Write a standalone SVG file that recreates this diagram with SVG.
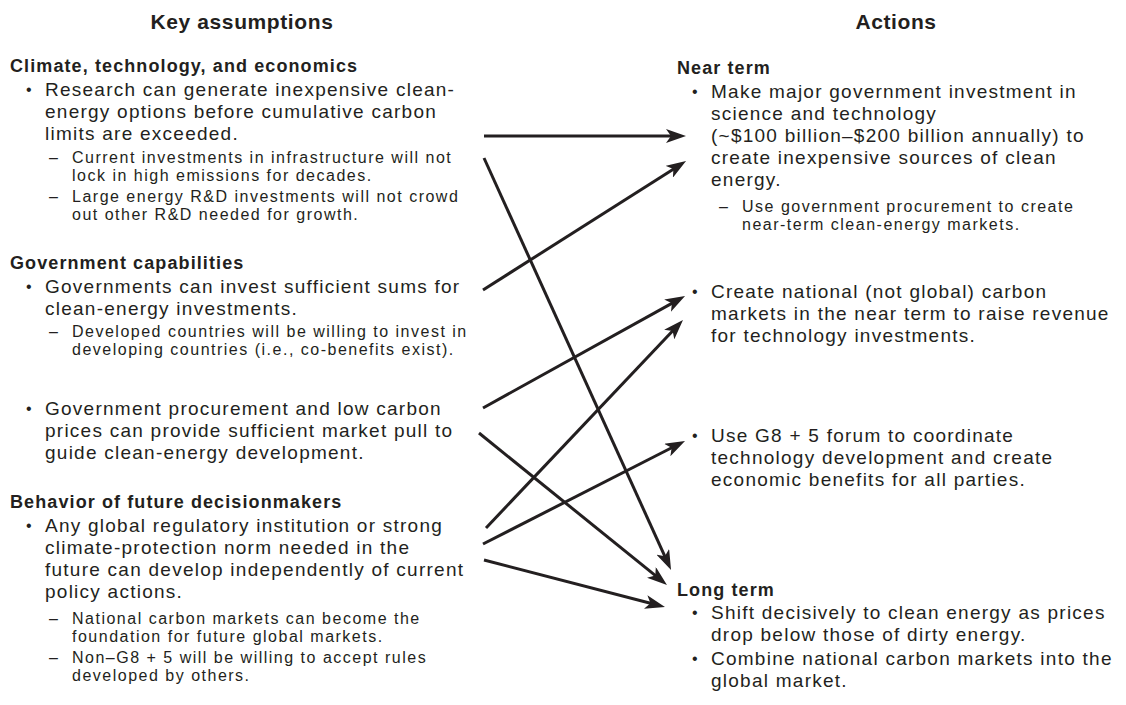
<svg xmlns="http://www.w3.org/2000/svg" width="1126" height="705" viewBox="0 0 1126 705">
<style>
text{font-family:"Liberation Sans",Arial,sans-serif;fill:#231f20;font-size:19px}
.title{font-size:21px;font-weight:bold;text-anchor:middle;letter-spacing:0.6px}
.h{font-size:18px;font-weight:bold;letter-spacing:1.1px}
.t{font-size:19px;letter-spacing:1.25px}
.s{font-size:16px;letter-spacing:1.5px}
.b{font-size:16px}
.c{stroke:#231f20;stroke-width:3;fill:none;marker-end:url(#ah)}
</style>
<defs>
<marker id="ah" markerUnits="userSpaceOnUse" viewBox="0 0 20 14" markerWidth="20" markerHeight="14" refX="10" refY="7" orient="auto">
<path d="M0,0 L20,7 L0,14 L5,7 z" fill="#231f20"/>
</marker>
</defs>
<rect width="1126" height="705" fill="#fff"/>
<g id="title-left"><text class="title" x="242" y="29">Key assumptions</text></g>
<g id="title-right"><text class="title" x="896" y="29">Actions</text></g>

<g id="a-research">
<text><tspan class="h" x="10" y="72">Climate, technology, and economics</tspan><tspan class="b" x="26" y="95">•</tspan><tspan class="t" x="45" y="96">Research can generate inexpensive clean-</tspan><tspan class="t" x="45" y="118">energy options before cumulative carbon</tspan><tspan class="t" x="45" y="140">limits are exceeded.</tspan><tspan class="s" x="49" y="163">–</tspan><tspan class="s" x="72" y="163">Current investments in infrastructure will not</tspan><tspan class="s" x="72" y="181">lock in high emissions for decades.</tspan><tspan class="s" x="49" y="202">–</tspan><tspan class="s" x="72" y="202">Large energy R&amp;D investments will not crowd</tspan><tspan class="s" x="72" y="220">out other R&amp;D needed for growth.</tspan></text>
</g>

<g id="a-invest">
<text><tspan class="h" x="10" y="269">Government capabilities</tspan><tspan class="b" x="26" y="292">•</tspan><tspan class="t" x="45" y="293">Governments can invest sufficient sums for</tspan><tspan class="t" x="45" y="315">clean-energy investments.</tspan><tspan class="s" x="49" y="337">–</tspan><tspan class="s" x="72" y="337">Developed countries will be willing to invest in</tspan><tspan class="s" x="72" y="355">developing countries (i.e., co-benefits exist).</tspan></text>
</g>

<g id="a-procurement">
<text><tspan class="b" x="26" y="414">•</tspan><tspan class="t" x="45" y="415">Government procurement and low carbon</tspan><tspan class="t" x="45" y="437">prices can provide sufficient market pull to</tspan><tspan class="t" x="45" y="459">guide clean-energy development.</tspan></text>
</g>

<g id="a-global">
<text><tspan class="h" x="10" y="508">Behavior of future decisionmakers</tspan><tspan class="b" x="26" y="531">•</tspan><tspan class="t" x="45" y="532">Any global regulatory institution or strong</tspan><tspan class="t" x="45" y="554">climate-protection norm needed in the</tspan><tspan class="t" x="45" y="576">future can develop independently of current</tspan><tspan class="t" x="45" y="598">policy actions.</tspan><tspan class="s" x="49" y="624">–</tspan><tspan class="s" x="72" y="624">National carbon markets can become the</tspan><tspan class="s" x="72" y="642">foundation for future global markets.</tspan><tspan class="s" x="49" y="663">–</tspan><tspan class="s" x="72" y="663">Non–G8 + 5 will be willing to accept rules</tspan><tspan class="s" x="72" y="681">developed by others.</tspan></text>
</g>

<g id="b-invest">
<text><tspan class="h" x="677" y="74">Near term</tspan><tspan class="b" x="692" y="97">•</tspan><tspan class="t" x="711" y="98">Make major government investment in</tspan><tspan class="t" x="711" y="120">science and technology</tspan><tspan class="t" x="711" y="142">(~$100 billion–$200 billion annually) to</tspan><tspan class="t" x="711" y="164">create inexpensive sources of clean</tspan><tspan class="t" x="711" y="186">energy.</tspan><tspan class="s" x="719" y="212">–</tspan><tspan class="s" x="742" y="212">Use government procurement to create</tspan><tspan class="s" x="742" y="230">near-term clean-energy markets.</tspan></text>
</g>

<g id="b-national">
<text><tspan class="b" x="692" y="297">•</tspan><tspan class="t" x="711" y="298">Create national (not global) carbon</tspan><tspan class="t" x="711" y="320">markets in the near term to raise revenue</tspan><tspan class="t" x="711" y="342">for technology investments.</tspan></text>
</g>

<g id="b-g8">
<text><tspan class="b" x="692" y="441">•</tspan><tspan class="t" x="711" y="442">Use G8 + 5 forum to coordinate</tspan><tspan class="t" x="711" y="464">technology development and create</tspan><tspan class="t" x="711" y="486">economic benefits for all parties.</tspan></text>
</g>

<g id="b-long">
<text><tspan class="h" x="677" y="596">Long term</tspan><tspan class="b" x="692" y="618">•</tspan><tspan class="t" x="711" y="619">Shift decisively to clean energy as prices</tspan><tspan class="t" x="711" y="641">drop below those of dirty energy.</tspan><tspan class="b" x="692" y="664">•</tspan><tspan class="t" x="711" y="665">Combine national carbon markets into the</tspan><tspan class="t" x="711" y="687">global market.</tspan></text>
</g>

<g id="connectors">
<line class="c" x1="484" y1="136" x2="676" y2="136"/>
<line class="c" x1="484" y1="158" x2="666.9" y2="560.9"/>
<line class="c" x1="483" y1="290" x2="677.6" y2="166.4"/>
<line class="c" x1="483" y1="408" x2="676.3" y2="300.9"/>
<line class="c" x1="479" y1="433" x2="659.2" y2="578.7"/>
<line class="c" x1="486" y1="528" x2="676.1" y2="327.3"/>
<line class="c" x1="483" y1="544" x2="676.1" y2="445.5"/>
<line class="c" x1="484" y1="560" x2="655.3" y2="604.5"/>
</g>
</svg>
